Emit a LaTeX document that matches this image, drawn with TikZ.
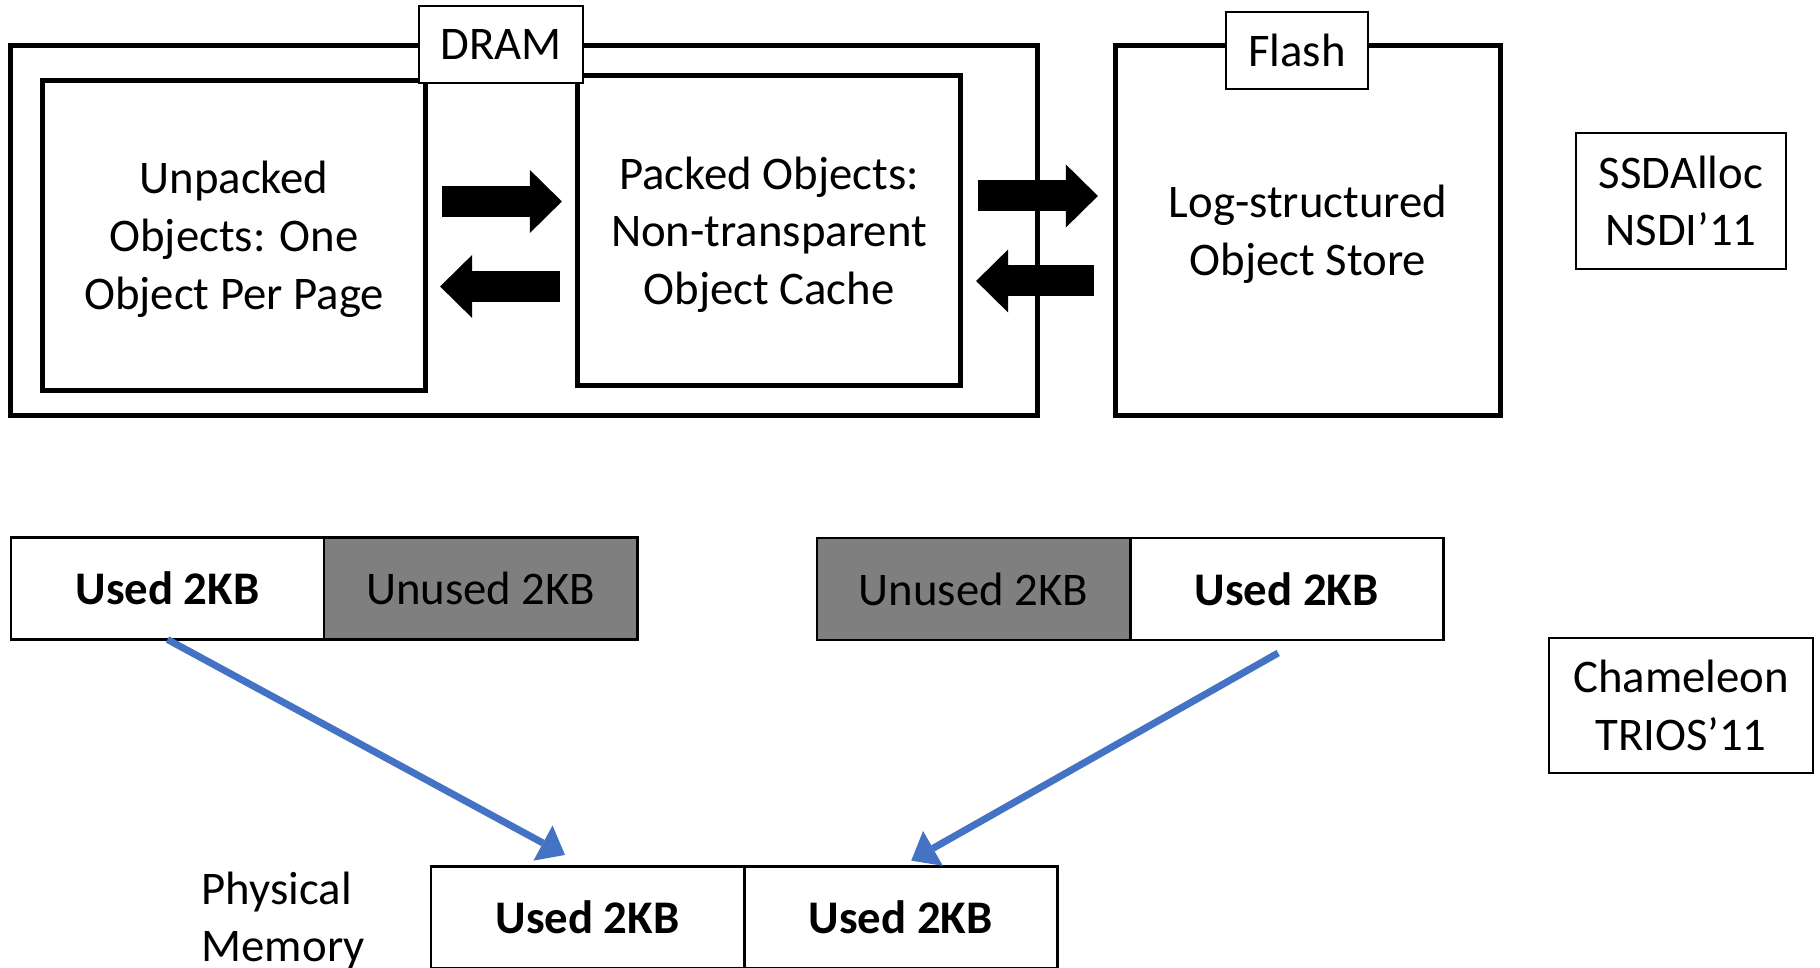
\documentclass[tikz,border=0pt]{standalone}
\usepackage{fontspec}
\setmainfont{Carlito}
\usetikzlibrary{arrows.meta,positioning}

\definecolor{mapblue}{HTML}{4472C4}
\definecolor{unusedgray}{HTML}{7F7F7F}
\newcommand{\figfont}{\fontsize{13.3}{16.45}\selectfont}

\tikzset{
  every node/.style={font=\figfont},
  region/.style={draw, line width=1.4pt, inner sep=0pt, outer sep=0pt},
  store/.style={region, align=center, text depth=0pt, minimum width=3.82cm, minimum height=3.1cm},
  tag/.style={draw, fill=white, line width=0.6pt, inner sep=0pt, outer sep=0pt, align=center},
  cell/.style={draw, line width=0.8pt, inner sep=0pt, outer sep=0pt, minimum width=3.13cm, minimum height=1.02cm},
  used/.style={cell, font=\figfont\bfseries},
  unused/.style={cell, fill=unusedgray},
  blockarrow/.style={line width=0.31cm, -{Triangle[length=0.32cm,width=0.63cm,line width=0pt]}},
  maparrow/.style={mapblue, line width=0.07cm, -{Triangle[length=0.25cm,width=0.4cm,line width=0pt]}}
}

\begin{document}
\begin{tikzpicture}[x=0.01cm,y=-0.01cm]
  \useasboundingbox (0,0) rectangle (1820,968);

  % SSDAlloc: DRAM and flash
  \node[region, minimum width=10.26cm, minimum height=3.69cm] (dram) at (524,230.5) {};
  \node[store, minimum width=3.84cm, minimum height=3.69cm] (fls) at (1308,230.5) {Log-structured\\Object Store};
  \node[store] (unp) at (234,235.5) {Unpacked\\Objects: One\\Object Per Page};
  \node[store] (pck) at (769,230.75) {Packed Objects:\\Non-transparent\\Object Cache};
  \node[tag, minimum width=1.645cm, minimum height=0.77cm] (dramtag) at (501,44.5) {DRAM};
  \node[tag, minimum width=1.415cm, minimum height=0.776cm] (flstag) at (1297,50.5) {Flash};

  \draw[blockarrow] ([shift={(17,-34)}]unp.east) -- ([shift={(-16,-29.25)}]pck.west);
  \draw[blockarrow] ([shift={(-18,55.75)}]pck.west) -- ([shift={(15,51)}]unp.east);
  \draw[blockarrow] ([shift={(18,-34.75)}]pck.east) -- ([shift={(-18,-34.5)}]fls.west);
  \draw[blockarrow] ([shift={(-22,50.5)}]fls.west) -- ([shift={(16,50.25)}]pck.east);

  \node[tag, minimum width=2.10cm, minimum height=1.36cm] (ssd) at (1681,201) {SSDAlloc\\NSDI’11};

  % Chameleon: half-used pages
  \node[used] (usedA) at (167.5,588.5) {Used 2KB};
  \node[unused, right=0pt of usedA] (unusedA) {Unused 2KB};
  \node[unused] (unusedB) at (973.5,589) {Unused 2KB};
  \node[used, right=0pt of unusedB] (usedB) {Used 2KB};
  \node[used] (memA) at (587.5,917.7) {Used 2KB};
  \node[used, right=0pt of memA] (memB) {Used 2KB};
  \node[anchor=base west, align=left, inner sep=0pt] (phys) at (201,962) {Physical\\Memory};

  \draw[maparrow] (usedA.south) -- ([shift={(-22.5,-11.7)}]memA.north);
  \draw[maparrow] ([shift={(-8.5,13)}]usedB.south) -- ([shift={(10.5,-6)}]memB.north);

  \node[tag, minimum width=2.64cm, minimum height=1.35cm] (cham) at (1681,705.5) {Chameleon\\TRIOS’11};
\end{tikzpicture}
\end{document}
